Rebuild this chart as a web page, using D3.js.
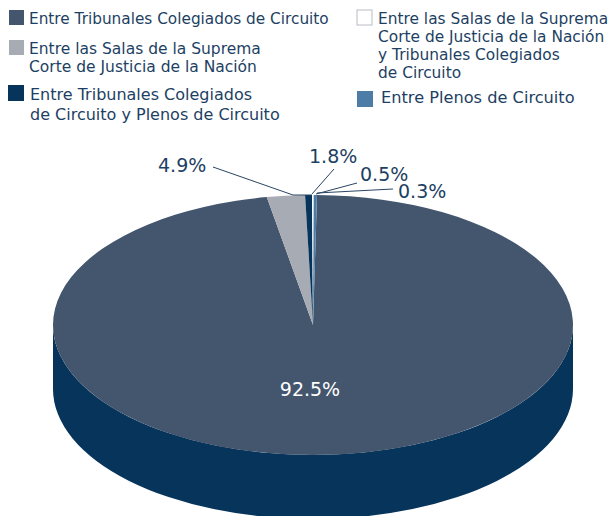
<!DOCTYPE html>
<html><head><meta charset="utf-8">
<script src="https://cdn.jsdelivr.net/npm/d3@7"></script>
<style>html,body{margin:0;padding:0;background:#fff}svg{display:block}text{font-family:"DejaVu Sans",sans-serif}</style>
</head><body><svg id="c" width="614" height="516"></svg>
<script>
const categories = ["Entre Tribunales Colegiados de Circuito","Entre las Salas de la Suprema Corte de Justicia de la Nación","Entre Tribunales Colegiados de Circuito y Plenos de Circuito","Entre las Salas de la Suprema Corte de Justicia de la Nación y Tribunales Colegiados de Circuito","Entre Plenos de Circuito"];
const printedLabels = ["92.5%","4.9%","1.8%","0.5%","0.3%"];
// Share of the circle each slice occupies as drawn in the picture (the original's wedges are not proportional to its printed labels).
const drawnShares = [96.91, 2.36, 0.43, 0.1, 0.2];
const colors = ["#43566e","#a7abb3","#06345a","#ffffff","#4d7ca6"];
const legendLines = [
  ["Entre Tribunales Colegiados de Circuito"],
  ["Entre las Salas de la Suprema","Corte de Justicia de la Nación"],
  ["Entre Tribunales Colegiados","de Circuito y Plenos de Circuito"],
  ["Entre las Salas de la Suprema","Corte de Justicia de la Nación","y Tribunales Colegiados","de Circuito"],
  ["Entre Plenos de Circuito"]];

const cx=313,cy=325,rx=260,ry=130,depth=64;
const textCol="#1d3f63";
const svg=d3.select("#c");

// side wall
svg.append("path").attr("fill","#06345a")
  .attr("d",`M${cx-rx},${cy}A${rx},${ry} 0 0 0 ${cx+rx},${cy}V${cy+depth}A${rx},${ry} 0 0 1 ${cx-rx},${cy+depth}Z`);

// top face
const startDeg=0.88;
const pie=d3.pie().sort(null).value(d=>d).startAngle(startDeg*Math.PI/180).endAngle((360+startDeg)*Math.PI/180);
const arcs=pie(drawnShares);
const arc=d3.arc().innerRadius(0).outerRadius(rx);
const face=svg.append("g").attr("transform",`translate(${cx},${cy}) scale(1,${ry/rx})`);
face.selectAll("path").data(arcs).join("path").attr("d",arc).attr("fill",(d,i)=>colors[i]);

// value labels
svg.append("text").attr("x",310).attr("y",396).attr("text-anchor","middle").attr("font-size",19).attr("fill","#fff").text(printedLabels[0]);
const callouts=[
  {i:1,lx:158,ly:172,pts:[[213,167],[293,195],[312,195]]},
  {i:2,lx:309,ly:163,pts:[[334,169],[312,194]]},
  {i:3,lx:360,ly:181,pts:[[357,183],[316,194]]},
  {i:4,lx:398,ly:198,pts:[[393,189],[317,193]]}];
const leader=d3.line();
callouts.forEach(c=>{
  svg.append("path").attr("d",leader(c.pts)).attr("fill","none").attr("stroke","#2a4564").attr("stroke-width",1);
  svg.append("text").attr("x",c.lx).attr("y",c.ly).attr("font-size",19).attr("fill",textCol).text(printedLabels[c.i]);
});

// legend
const legendPos=[
 {sx:9,sy:10,s:15,tx:29,ty:24,lh:0,fs:15.3},
 {sx:9,sy:40,s:15,tx:29,ty:54,lh:18,fs:15.5},
 {sx:8,sy:85,s:16,tx:30,ty:100,lh:20,fs:16},
 {sx:357,sy:10,s:15,tx:378,ty:24,lh:18,fs:15.4},
 {sx:357,sy:91,s:16,tx:381,ty:103,lh:0,fs:16.2}];
legendPos.forEach((p,i)=>{
  svg.append("rect").attr("x",p.sx).attr("y",p.sy).attr("width",p.s).attr("height",p.s)
    .attr("fill",colors[i]).attr("stroke",i===3?"#b9bcc2":"none");
  legendLines[i].forEach((t,j)=>svg.append("text").attr("x",p.tx).attr("y",p.ty+j*p.lh)
    .attr("font-size",p.fs).attr("fill",textCol).text(t));
});
</script></body></html>
